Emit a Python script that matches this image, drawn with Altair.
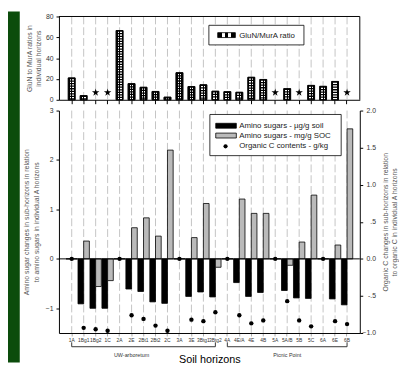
import altair as alt
import pandas as pd

# ---------------- data ----------------
horizons = ["1A", "1Bg1", "1Bg2", "1C", "2A", "2E", "2Bt1", "2Bt2", "2C", "3A", "3E",
            "3Btg1", "3Btg2", "4A", "4E/A", "4E", "4B", "5A", "5A/B", "5B", "5C", "6A", "6E", "6B"]

# GluN/MurA ratio (None = not determined, shown with a star)
glun_murA = [21, 4, None, None, 66.5, 15.5, 12, 8, 2.5, 26, 12.7, 14.4, 8.2, 7.8, 7.2,
             21.6, 19.5, None, 10.7, None, 13.8, 12.9, 17.6, None]
star_level = 7

# relative changes vs. A horizons
amino_soil = [0, -0.91, -1.0, -1.0, 0, -0.61, -0.66, -0.87, -0.90, 0, -0.76, -0.67, -0.77,
              0, -0.48, -0.76, -0.68, 0, -0.64, -0.79, -0.80, 0, -0.81, -0.93]
amino_soc = [0, 0.36, -0.56, -0.44, 0, 0.63, 0.83, 0.46, 2.20, 0, 0.43, 1.12, -0.17,
             0, 1.21, 0.92, 0.92, 0, -0.13, 0.34, 1.29, 0, 0.28, 2.63]
org_c = [0, -0.93, -0.95, -0.97, 0, -0.76, -0.81, -0.90, -0.97, 0, -0.82, -0.84, -0.72,
         0, -0.76, -0.87, -0.83, 0, -0.57, -0.83, -0.91, 0, -0.84, -0.88]

series_names = ["Amino sugars - \u00b5g/g soil", "Amino sugars - mg/g SOC"]
series_colors = ["black", "#bababa"]
dot_label = "Organic C contents - g/kg"
ratio_label = "GluN/MurA ratio"

site_names = ["UW-arboretum", "Picnic Point"]
site_first = ["1A", "4A"]
site_last = ["3Btg2", "6B"]
site_mid = ["2E", "5A/B"]

# ---------------- layout ----------------
FONT = "Liberation Sans"
W = 307
H = 323          # whole plot column: top panel 0..85, bottom panel 96..323
TOP_B = 85
BOT_T = 96

STAR = ("M0,-1L0.2245,-0.309L0.9511,-0.309L0.3633,0.118L0.5878,0.809L0,0.382"
        "L-0.5878,0.809L-0.3633,0.118L-0.9511,-0.309L-0.2245,-0.309Z")

x_scale = alt.Scale(domain=horizons, paddingInner=0.05, paddingOuter=0.59)

top_x_axis = alt.Axis(orient="bottom", offset=TOP_B - H, title=None, labels=False, ticks=True,
                      tickSize=4, tickColor="black", domainColor="black", grid=False,
                      bandPosition=0.5)
bot_x_axis = alt.Axis(orient="bottom", title="Soil horizons", titleFontSize=11,
                      titleFontWeight="normal", titleColor="black", titlePadding=11,
                      labelFontSize=5, labelAngle=0, labelPadding=2, labelColor="#333",
                      tickSize=3, tickColor="#aaaaaa", domainColor="black", grid=False,
                      bandPosition=0.5)

X_top = alt.X("horizon:N", scale=x_scale, sort=None, axis=top_x_axis)
X_bot = alt.X("horizon:N", scale=x_scale, sort=None, axis=bot_x_axis)
X_none = alt.X("horizon:N", scale=x_scale, sort=None, axis=None)

checker = alt.Gradient(
    gradient="linear", x1=0, y1=0, x2=1, y2=0,
    stops=[alt.GradientStop(offset=0, color="black"), alt.GradientStop(offset=0.22, color="black"),
           alt.GradientStop(offset=0.22, color="white"), alt.GradientStop(offset=0.44, color="white"),
           alt.GradientStop(offset=0.44, color="black"), alt.GradientStop(offset=0.56, color="black"),
           alt.GradientStop(offset=0.56, color="white"), alt.GradientStop(offset=0.78, color="white"),
           alt.GradientStop(offset=0.78, color="black"), alt.GradientStop(offset=1, color="black")])


def one():
    return pd.DataFrame({"a": [0]})


def label(text, x, y, size=8, color="#222", align="left"):
    return alt.Chart(pd.DataFrame({"t": [text]})).mark_text(
        align=align, baseline="middle", fontSize=size, color=color, font=FONT).encode(
        x=alt.value(x), y=alt.value(y), text="t:N")


def frame(x, x2, y, y2, color="black"):
    return alt.Chart(one()).mark_rule(color=color, strokeWidth=1).encode(
        x=alt.value(x), x2=alt.value(x2), y=alt.value(y), y2=alt.value(y2))


grid_df = pd.DataFrame({"horizon": horizons})

# ---------------- top panel ----------------
top_df = pd.DataFrame({"horizon": horizons, "ratio": glun_murA}).dropna()
star_df = pd.DataFrame({"horizon": [h for h, r in zip(horizons, glun_murA) if r is None]})
star_df["ratio"] = star_level

top_y_axis = alt.Axis(orient="left", values=[0, 20, 40, 60, 80], tickSize=3, labelPadding=3,
                      labelFontSize=7, labelColor="#333", domainColor="black", tickColor="black",
                      grid=False, title=["GluN to MurA ratios in", "individual horizons"],
                      titleFontSize=7, titleFontWeight="normal", titleColor="#555",
                      titlePadding=4, titleLineHeight=9)
Y_top = alt.Y("ratio:Q", scale=alt.Scale(domain=[0, 80], range=[TOP_B, 0], nice=False),
              axis=top_y_axis)

strip = alt.Chart(one()).mark_rect(color="#0c4c0c").encode(
    x=alt.value(-52), x2=alt.value(-40), y=alt.value(-5), y2=alt.value(353))

grid_top = alt.Chart(grid_df).mark_rule(color="#c4c4c4", strokeDash=[8, 3], strokeWidth=1).encode(
    x=X_top, y=alt.value(0), y2=alt.value(TOP_B))
bar_fill = alt.Chart(top_df).mark_bar(size=7, fill=checker, stroke="black", strokeWidth=0.8).encode(
    x=X_top, y=Y_top)
bar_rows = alt.Chart(top_df).mark_rule(strokeWidth=6, strokeDash=[1.3, 1.3], color="black").encode(
    x=X_top, y=Y_top, y2=alt.datum(0))
bar_line = alt.Chart(top_df).mark_bar(size=7, fillOpacity=0, stroke="black", strokeWidth=0.8).encode(
    x=X_top, y=Y_top)
stars = alt.Chart(star_df).mark_point(shape=STAR, filled=True, color="black", size=64, opacity=1).encode(
    x=X_top, y=Y_top)

leg1_box = alt.Chart(one()).mark_rect(fill="white", stroke="black", strokeWidth=0.8).encode(
    x=alt.value(153), x2=alt.value(250), y=alt.value(9), y2=alt.value(29))
leg1_sw = alt.Chart(one()).mark_rect(fill=checker, stroke="black", strokeWidth=0.8).encode(
    x=alt.value(162), x2=alt.value(180), y=alt.value(16.5), y2=alt.value(21.5))
leg1_tx = label(ratio_label, 184, 19.5)

top_group = alt.layer(strip, grid_top, bar_fill, bar_rows, bar_line, stars,
                      frame(0, W, 0, 0), frame(W, W, 0, TOP_B),
                      leg1_box, leg1_sw, leg1_tx)

# ---------------- bottom panel ----------------
long_df = pd.DataFrame({
    "horizon": horizons * 2,
    "series": [series_names[0]] * len(horizons) + [series_names[1]] * len(horizons),
    "value": amino_soil + amino_soc,
})
dot_df = pd.DataFrame({"horizon": horizons, "orgC": org_c})
site_df = pd.DataFrame({"site": site_names, "first": site_first, "last": site_last, "mid": site_mid})

left_axis = alt.Axis(orient="left", values=[-1, 0, 1, 2, 3], tickSize=3, labelPadding=3,
                     labelFontSize=7, labelColor="#333", domainColor="black", tickColor="black",
                     grid=False,
                     title=["Amino sugar changes in sub-horizons in relation",
                            "to amino sugars in individual A horizons"],
                     titleFontSize=7, titleFontWeight="normal", titleColor="#555",
                     titlePadding=6, titleLineHeight=10)
Y_left = alt.Y("value:Q", scale=alt.Scale(domain=[-1.5, 3], range=[H, BOT_T], nice=False, zero=False),
               axis=left_axis)

right_axis = alt.Axis(orient="right", values=[-1, -0.5, 0, 0.5, 1, 1.5, 2], tickSize=3,
                      labelPadding=13, labelAlign="right", labelFontSize=7, labelColor="#333",
                      labelExpr="datum.value == 0.5 ? '.5' : datum.value == -0.5 ? '-.5' : format(datum.value, '.1f')",
                      domainColor="black", tickColor="black", grid=False,
                      title=["Organic C changes in sub-horizons in relation",
                             "to organic C in individual A horizons"],
                      titleFontSize=7, titleFontWeight="normal", titleColor="#555",
                      titleAngle=270, titleBaseline="top", titleAlign="center",
                      titleX=22, titleY=(BOT_T + H) / 2, titleLineHeight=9)
Y_right = alt.Y("orgC:Q", scale=alt.Scale(domain=[-1, 2], range=[H, BOT_T], nice=False, zero=False),
                axis=right_axis)

grid_bot = alt.Chart(grid_df).mark_rule(color="#c4c4c4", strokeDash=[8, 3], strokeWidth=1).encode(
    x=X_bot, y=alt.value(BOT_T), y2=alt.value(H))
bars = alt.Chart(long_df).mark_bar(stroke="black", strokeWidth=0.8).encode(
    x=X_bot,
    xOffset=alt.XOffset("series:N", sort=series_names,
                        scale=alt.Scale(domain=series_names, paddingInner=0, paddingOuter=0)),
    y=Y_left,
    fill=alt.Fill("series:N", scale=alt.Scale(domain=series_names, range=series_colors), legend=None),
)
zero = alt.Chart(pd.DataFrame({"value": [0]})).mark_rule(color="black", strokeWidth=1).encode(y=Y_left)

X_first = alt.X("first:N", scale=x_scale, sort=None, axis=bot_x_axis)
X_last = alt.X("last:N", scale=x_scale, sort=None, axis=bot_x_axis)
br_line = alt.Chart(site_df).mark_rule(color="#333", strokeWidth=1).encode(
    x=X_first, x2="last:N", y=alt.value(337))
br_l = alt.Chart(site_df).mark_rule(color="#333", strokeWidth=1).encode(
    x=X_first, y=alt.value(332.5), y2=alt.value(337))
br_r = alt.Chart(site_df).mark_rule(color="#333", strokeWidth=1).encode(
    x=X_last, y=alt.value(332.5), y2=alt.value(337))
br_tx = alt.Chart(site_df).mark_text(fontSize=5.5, color="#333", baseline="middle", font=FONT).encode(
    x=alt.X("mid:N", scale=x_scale, sort=None, axis=bot_x_axis), y=alt.value(345), text="site:N")

leg2_box = alt.Chart(one()).mark_rect(fill="white", stroke="black", strokeWidth=0.8).encode(
    x=alt.value(154), x2=alt.value(288), y=alt.value(100), y2=alt.value(142))
leg2_sw1 = alt.Chart(one()).mark_rect(fill=series_colors[0], stroke="black", strokeWidth=0.8).encode(
    x=alt.value(160), x2=alt.value(181), y=alt.value(109), y2=alt.value(114))
leg2_sw2 = alt.Chart(one()).mark_rect(fill=series_colors[1], stroke="black", strokeWidth=0.8).encode(
    x=alt.value(160), x2=alt.value(181), y=alt.value(119), y2=alt.value(124))
leg2_dot = alt.Chart(one()).mark_point(filled=True, color="black", size=18, opacity=1).encode(
    x=alt.value(170), y=alt.value(132.5))
leg2_t1 = label(series_names[0], 184, 111.5)
leg2_t2 = label(series_names[1], 184, 121.5)
leg2_t3 = label(dot_label, 184, 132.5)

bottom_group = alt.layer(grid_bot, bars, zero, br_line, br_l, br_r, br_tx,
                         leg2_box, leg2_sw1, leg2_sw2, leg2_dot, leg2_t1, leg2_t2, leg2_t3)

dots = alt.Chart(dot_df).mark_point(filled=True, color="black", size=20, opacity=1).encode(
    x=X_none, y=Y_right)

chart = alt.layer(top_group, bottom_group, dots).resolve_scale(y="independent").resolve_axis(
    x="independent", y="independent"
).properties(
    width=W, height=H,
    autosize=alt.AutoSizeParams(type="none"),
    padding={"left": 52, "top": 5, "right": 40, "bottom": 30}
).configure(font=FONT).configure_view(strokeWidth=0)

chart.save("out.html", embed_options={"renderer": "svg", "actions": False})
